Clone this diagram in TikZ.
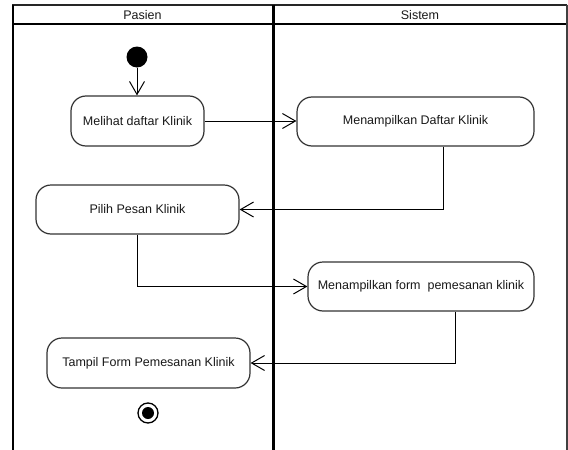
\documentclass[tikz,border=0pt]{standalone}
\usepackage{fontspec}
\setmainfont{Liberation Sans}
\usetikzlibrary{arrows.meta}
\begin{document}
\begin{tikzpicture}[x=1pt,y=-1pt,
  action/.style={draw=black!80, line width=1.2pt, rounded corners=15pt, fill=white,
    align=center, inner sep=0pt, text=black!90, font=\fontsize{12.5}{14}\selectfont},
  flow/.style={draw=black, line width=1pt,
    -{Straight Barb[length=13pt,width=15pt,line width=1pt]}},
  lanetitle/.style={text=black!90, font=\fontsize{12.5}{14}\selectfont},
  startnode/.style={circle, fill=black, minimum size=21pt, inner sep=0pt},
  endnode/.style={circle, draw=black, line width=1.3pt, fill=white, minimum size=20pt, inner sep=0pt,
    path picture={\fill[black] (path picture bounding box.center) circle (6pt);}}]
\useasboundingbox (0,0) rectangle (568,450);

% swimlane frame
\draw[line width=1.3pt, black!85] (12,5) -- (566.5,5);
\draw[line width=2pt, black!75] (566.5,4.5) -- (566.5,450);
\draw[line width=2.8pt] (12,24) -- (566,24);
\draw[line width=2pt] (12.5,4.5) -- (12.5,450);
\draw[line width=3pt] (273,4.5) -- (273,450);
\node[lanetitle] (pasien) at (142.5,15) {Pasien};
\node[lanetitle] (sistem) at (420,15) {Sistem};

% activities
\node[startnode] (init) at (137,57) {};
\node[action, minimum width=133pt, minimum height=50pt] (melihat) at (137.5,121) {Melihat daftar Klinik};
\node[action, minimum width=237pt, minimum height=49pt] (daftar) at (415.5,121.5) {Menampilkan Daftar Klinik};
\node[action, minimum width=203pt, minimum height=49pt] (pilih) at (137.5,209.5) {Pilih Pesan Klinik};
\node[action, minimum width=226pt, minimum height=49pt] (form) at (421,286.5) {Menampilkan form\ \ pemesanan klinik};
\node[action, minimum width=203pt, minimum height=50pt] (tampil) at (148.5,363) {Tampil Form Pemesanan Klinik};
\node[endnode] (final) at (148,413) {};

% control flow
\draw[flow] (init.south) -- (init.south |- melihat.north);
\draw[flow] (melihat.east) -- (daftar.west |- melihat.east);
\draw[flow] ([xshift=27.5pt]daftar.south) |- (pilih.east);
\draw[flow] (pilih.south) |- (form.west);
\draw[flow] ([xshift=34pt]form.south) |- (tampil.east);
\end{tikzpicture}
\end{document}
